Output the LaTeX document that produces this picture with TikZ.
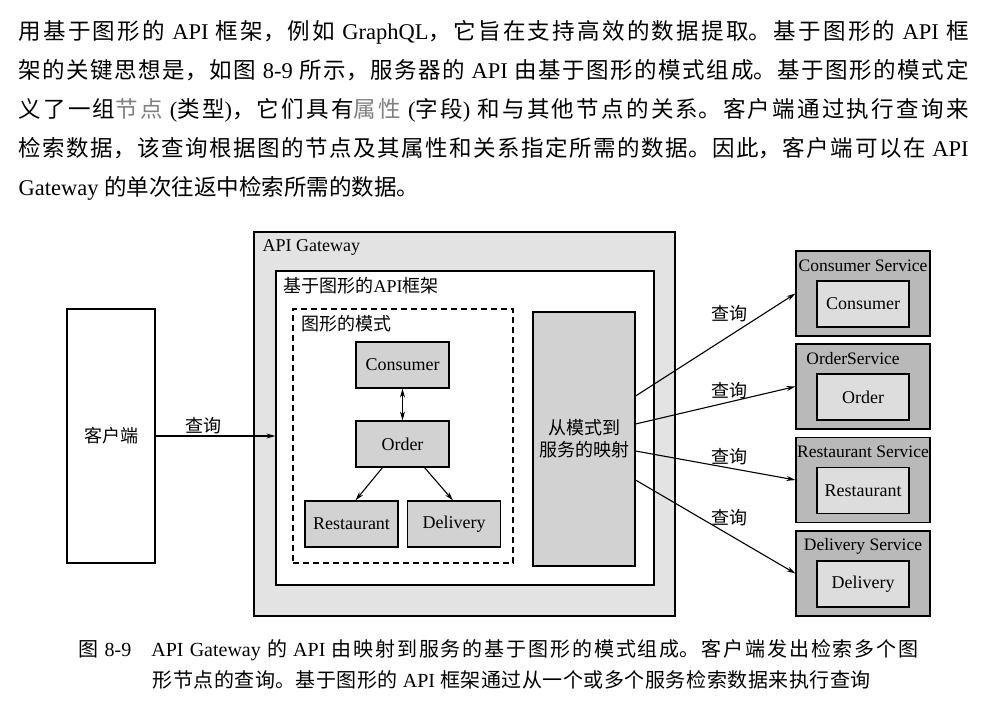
\documentclass[tikz,border=0pt]{standalone}
\usepackage{fontspec}
\setmainfont{Liberation Serif}
\newfontfamily\cjk{Noto Sans CJK SC}
\usepackage{tikz}
\usetikzlibrary{arrows.meta}
\newcommand{\zh}[1]{{\cjk #1}}
\newcommand{\fullline}[2]{\parbox[b]{#1}{\parfillskip=0pt\relax\noindent #2}}
\XeTeXlinebreaklocale "zh"
\XeTeXlinebreakskip=0pt plus 4pt

\begin{document}
\begin{tikzpicture}[x=1pt,y=-1pt,>={Stealth[length=9pt,width=5pt]},line width=1.1pt]
		\tikzstyle{pl}=[inner sep=0pt, anchor=base west, font=\fontsize{22.5}{39}\selectfont]
		\tikzstyle{cl}=[inner sep=0pt, anchor=base west, font=\fontsize{20}{31}\selectfont]
		\tikzstyle{lb}=[inner sep=2pt, font=\fontsize{18}{22}\selectfont]
		\tikzstyle{b1}=[draw, fill=gray!35, minimum width=93pt, minimum height=46pt, font=\fontsize{18}{22}\selectfont]
		\tikzstyle{s1}=[draw, fill=gray!55, minimum width=134pt, minimum height=85pt]
		\tikzstyle{s2}=[draw, fill=gray!27, minimum width=92pt, minimum height=46pt, font=\fontsize{18}{22}\selectfont]

		\useasboundingbox (0,0) rectangle (996,716);
		\fill[white] (0,0) rectangle (996,716);

		% text above the figure
		\node[pl] (P1) at (18,39.5) {\fullline{950pt}{\zh{用基于图形的} API \zh{框架，例如} GraphQL\zh{，它旨在支持高效的数据提取。基于图形的} API \zh{框}}};
		\node[pl] (P2) at (18,78.5) {\fullline{950pt}{\zh{架的关键思想是，如图} 8-9 \zh{所示，服务器的} API \zh{由基于图形的模式组成。基于图形的模式定}}};
		\node[pl] (P3) at (18,117.5) {\fullline{950pt}{\zh{义了一组}{\color{gray}\zh{节点}} (\zh{类型})\zh{，它们具有}{\color{gray}\zh{属性}} (\zh{字段}) \zh{和与其他节点的关系。客户端通过执行查询来}}};
		\node[pl] (P4) at (18,156.5) {\fullline{950pt}{\zh{检索数据，该查询根据图的节点及其属性和关系指定所需的数据。因此，客户端可以在} API}};
		\node[pl] (P5) at (18,195.5) {Gateway \zh{的单次往返中检索所需的数据。}};

		% containers
		\node[draw, fill=gray!22, minimum width=421pt, minimum height=384pt] (G) at (464.5,424) {};
		\node[draw, fill=white, minimum width=378pt, minimum height=314pt] (F) at (465,428) {};
		\node[draw, dash pattern=on 6pt off 4pt, minimum width=220pt, minimum height=254pt] (S) at (403,436) {};
		\node[lb, anchor=west] (GT) at (260,247) {API Gateway};
		\node[lb, anchor=west] (FT) at (281,286) {\zh{基于图形的}API\zh{框架}};
		\node[lb, anchor=west] (ST) at (299,324) {\zh{图形的模式}};

		\node[draw, fill=white, minimum width=88pt, minimum height=254pt, font=\fontsize{18}{22}\selectfont] (N1) at (111,436) {\zh{客户端}};
		\node[draw, fill=gray!35, minimum width=102pt, minimum height=254pt, align=center, font=\fontsize{18}{22}\selectfont] (M) at (584,439) {\zh{从模式到}\\\zh{服务的映射}};

		% graph schema
		\node[b1] (C) at (402.5,365) {Consumer};
		\node[b1] (O) at (402.5,444) {Order};
		\node[b1] (R) at (351.5,524) {Restaurant};
		\node[b1] (D) at (454,524) {Delivery};

		% services
		\node[s1] (SV1) at (863,293.5) {};
		\node[s1] (SV2) at (863,386.5) {};
		\node[s1] (SV3) at (863,480) {};
		\node[s1] (SV4) at (863,573.5) {};
		\node[lb, font=\fontsize{17.5}{21}\selectfont] (T1) at (863,266) {Consumer Service};
		\node[lb, font=\fontsize{17.5}{21}\selectfont] (T2) at (853,359) {OrderService};
		\node[lb, font=\fontsize{17.5}{21}\selectfont] (T3) at (863,452) {Restaurant Service};
		\node[lb, font=\fontsize{17.5}{21}\selectfont] (T4) at (863,546) {Delivery Service};
		\node[s2] (I1) at (863,304) {Consumer};
		\node[s2] (I2) at (863,397) {Order};
		\node[s2] (I3) at (863,490.5) {Restaurant};
		\node[s2] (I4) at (863,584) {Delivery};

		\draw [->] (N1.east) -- (N1.east -| F.west) node[lb, pos=.4, above=0pt] {\zh{查询}};
		\draw [<->] (C) -- (O);
		\draw [->] ([xshift=-20pt]O.south) -- ([xshift=4pt]R.north);
		\draw [->] ([xshift=22pt]O.south) -- ([xshift=-1pt]D.north);

		\draw [->] ([yshift=43pt]M.east) -- (SV1.west) node[lb, pos=.59, above=11pt] {\zh{查询}};
		\draw [->] ([yshift=15pt]M.east) -- (SV2.west) node[lb, pos=.59, above=0pt] {\zh{查询}};
		\draw [->] ([yshift=-12pt]M.east) -- (SV3.west) node[lb, pos=.59, above=1pt] {\zh{查询}};
		\draw [->] ([yshift=-41pt]M.east) -- (SV4.west) node[lb, pos=.59, above=7pt] {\zh{查询}};

		% caption
		\node[cl] (C1) at (78,656) {\fullline{840pt}{\zh{图} 8-9\quad API Gateway \zh{的} API \zh{由映射到服务的基于图形的模式组成。客户端发出检索多个图}}};
		\node[cl] (C2) at (152,687) {\fullline{718pt}{\zh{形节点的查询。基于图形的} API \zh{框架通过从一个或多个服务检索数据来执行查询}}};
\end{tikzpicture}
\end{document}
